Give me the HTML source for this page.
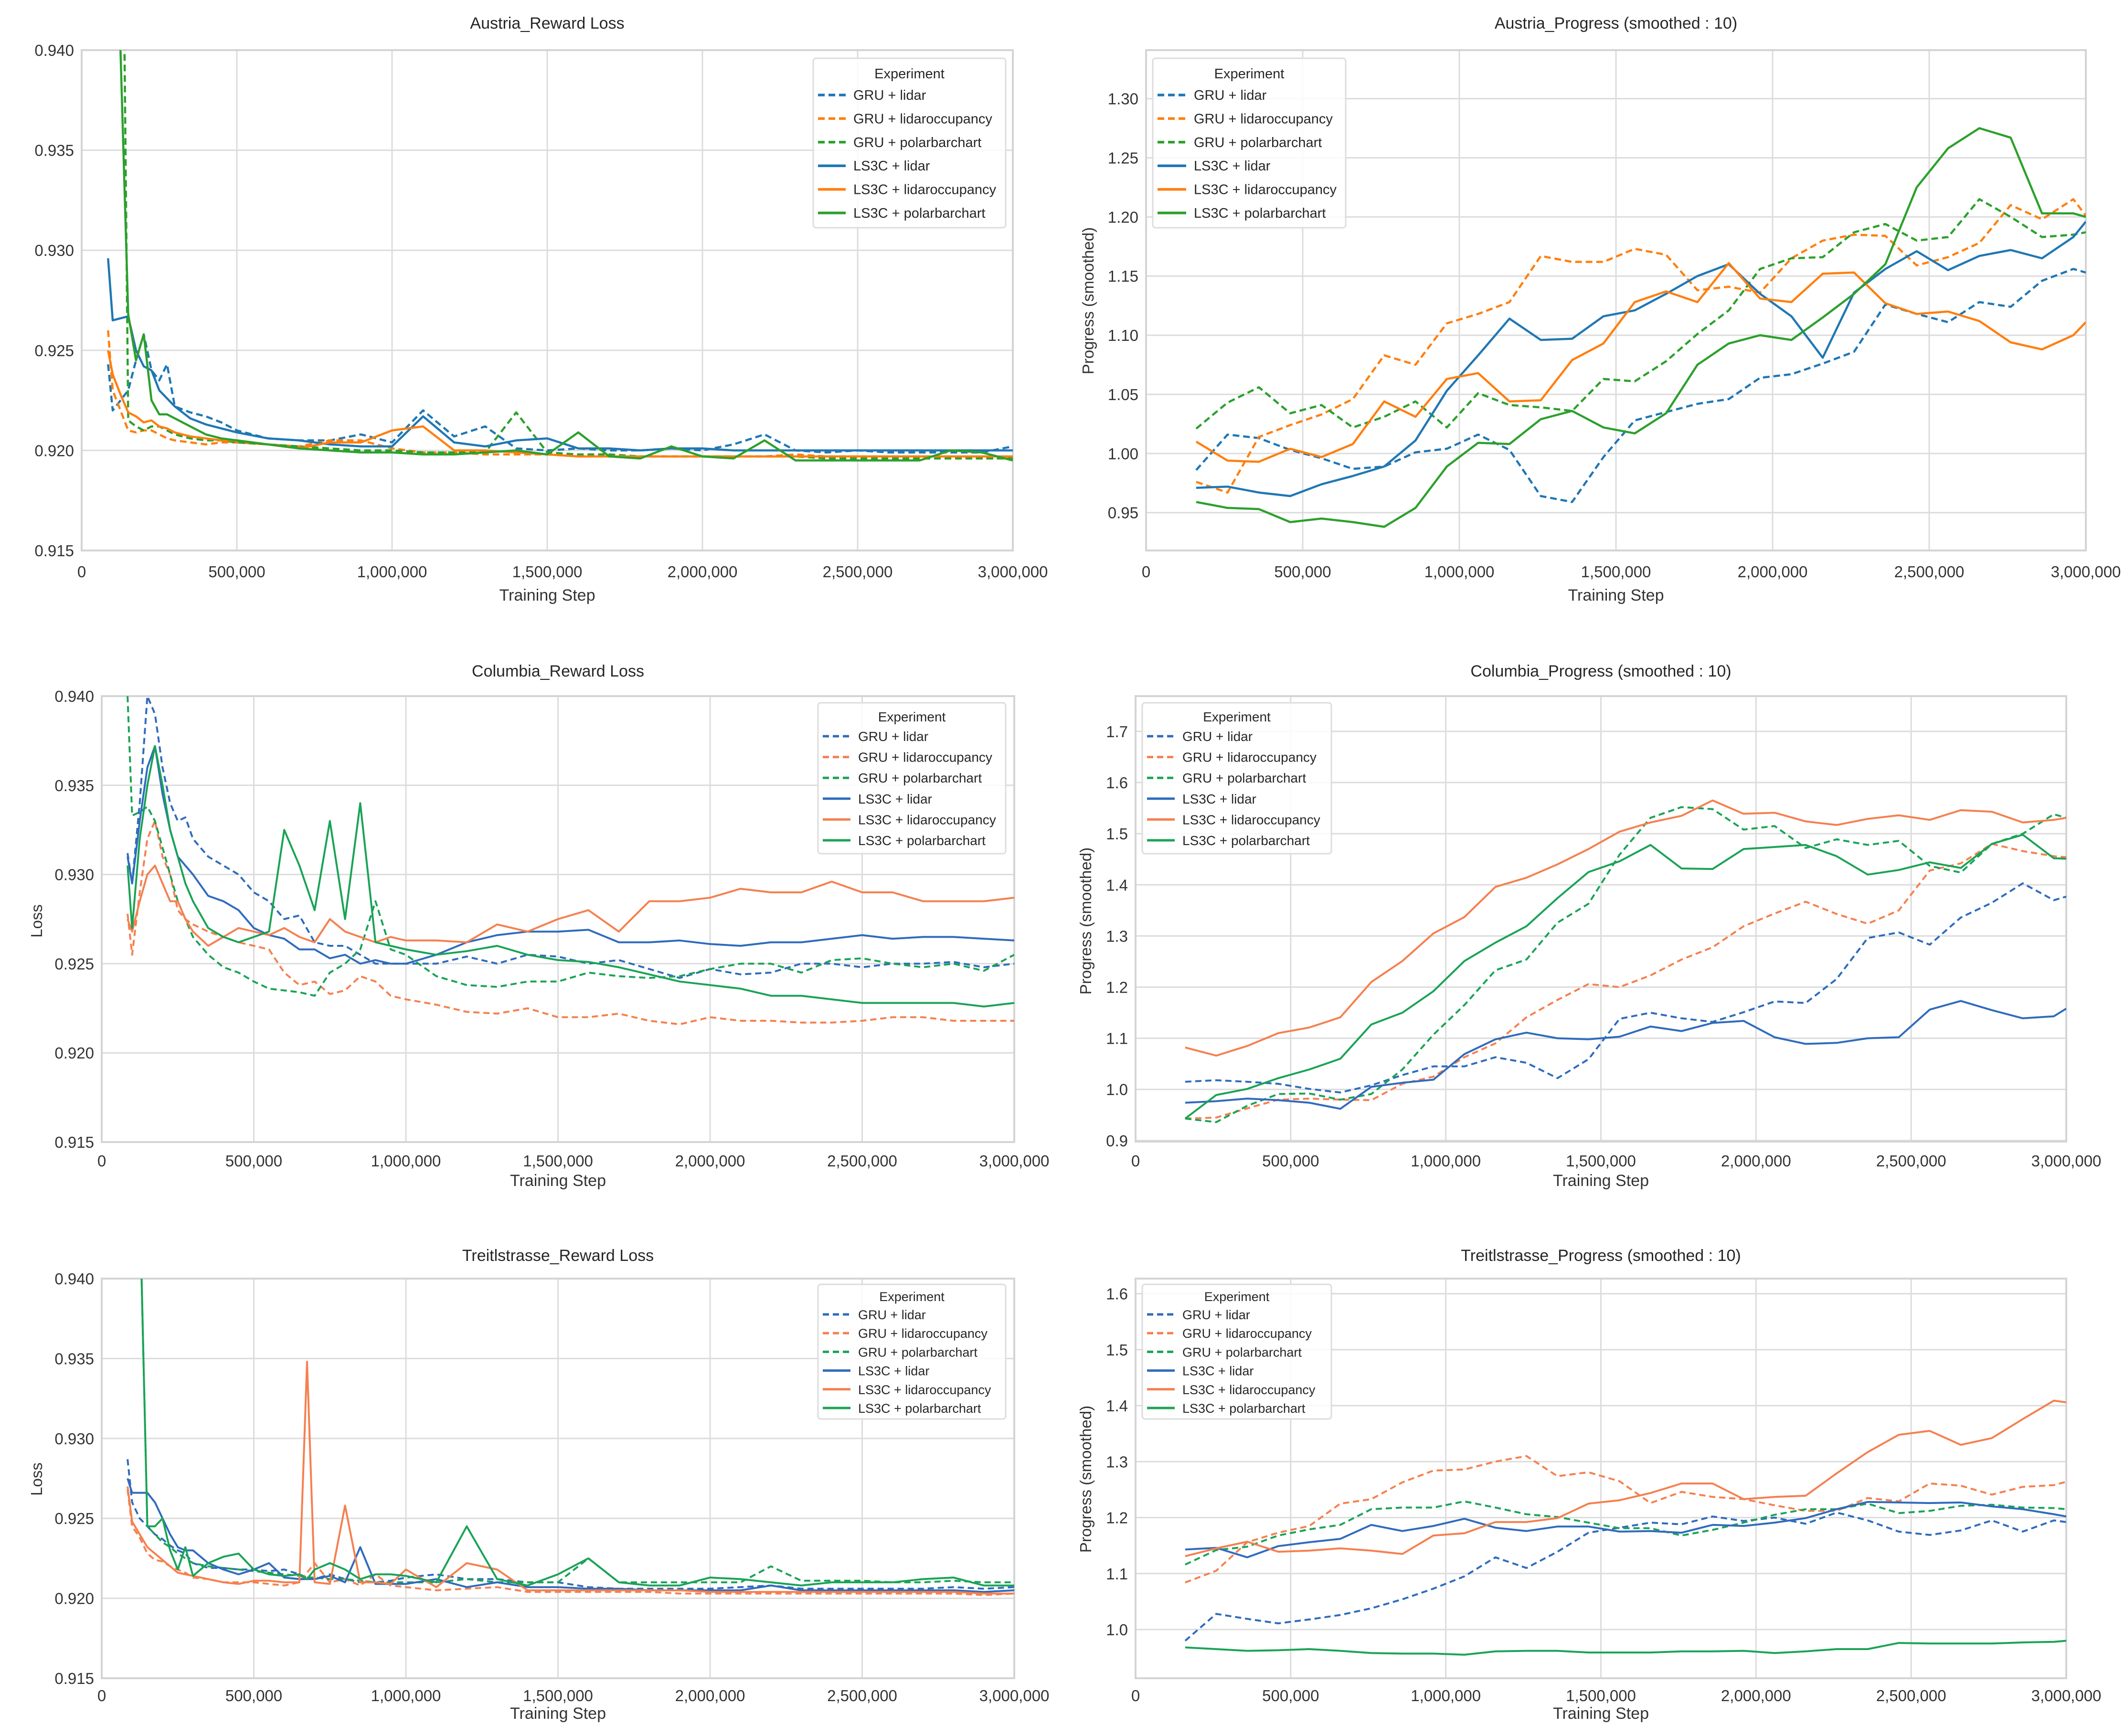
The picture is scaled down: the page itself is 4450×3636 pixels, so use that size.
<!DOCTYPE html>
<html><head><meta charset="utf-8"><style>
html,body{margin:0;padding:0;background:#fff;}
svg{display:block;font-family:"Liberation Sans Narrow","Liberation Sans",sans-serif;}
</style></head><body>
<svg id="root" width="4450" height="3636" viewBox="0 0 4450 3636" xmlns="http://www.w3.org/2000/svg">
<rect width="4450" height="3636" fill="#fff"/>
</svg>
<script>
// ---------- data ----------
const xsProg = [160,260,360,460,560,660,760,860,960,1060,1160,1260,1360,1460,1560,1660,1760,1860,1960,2060,2160,2260,2360,2460,2560,2660,2760,2860,2960,3000];
const xsLoss1 = [85,100,125,150,175,200,225,250,275,300,350,400,450,500,600,700,800,900,1000,1100,1200,1300,1400,1500,1600,1700,1800,1900,2000,2100,2200,2300,2400,2500,2600,2700,2800,2900,3000];
const xsLoss3 = [85,100,125,150,175,200,225,250,275,300,350,400,450,500,550,600,650,700,750,800,850,900,950,1000,1100,1200,1300,1400,1500,1600,1700,1800,1900,2000,2100,2200,2300,2400,2500,2600,2700,2800,2900,3000];
const xsLoss5 = [85,100,125,150,175,200,225,250,275,300,350,400,450,500,550,600,650,675,700,750,800,850,900,950,1000,1100,1200,1300,1400,1500,1600,1700,1800,1900,2000,2100,2200,2300,2400,2500,2600,2700,2800,2900,3000];

const seriesNames = ["GRU + lidar","GRU + lidaroccupancy","GRU + polarbarchart","LS3C + lidar","LS3C + lidaroccupancy","LS3C + polarbarchart"];
const xTickValues = [0,500000,1000000,1500000,2000000,2500000,3000000];
const xTickLabels = ["0","500,000","1,000,000","1,500,000","2,000,000","2,500,000","3,000,000"];

const a_loss_gru_lidar = [0.9243,0.9220,0.9225,0.9230,0.9245,0.9258,0.9240,0.9235,0.9243,0.9222,0.9219,0.9217,0.9214,0.9210,0.9206,0.9205,0.9205,0.9208,0.9204,0.9220,0.9207,0.9212,0.9201,0.9200,0.9201,0.9200,0.9200,0.9201,0.9200,0.9203,0.9208,0.9200,0.9199,0.9200,0.9199,0.9199,0.9199,0.9199,0.9202];
const a_loss_gru_occ = [0.9260,0.9230,0.9220,0.9210,0.9209,0.9210,0.9210,0.9208,0.9206,0.9205,0.9204,0.9203,0.9204,0.9204,0.9203,0.9202,0.9205,0.9205,0.9201,0.9199,0.9199,0.9198,0.9198,0.9198,0.9197,0.9197,0.9197,0.9197,0.9197,0.9197,0.9197,0.9198,0.9197,0.9197,0.9197,0.9197,0.9197,0.9196,0.9196];
const a_loss_gru_polar = [0.970,0.970,0.960,0.9215,0.9212,0.9210,0.9212,0.9212,0.9210,0.9208,0.9206,0.9205,0.9205,0.9204,0.9203,0.9202,0.9201,0.9200,0.9200,0.9199,0.9199,0.9199,0.9219,0.9199,0.9198,0.9198,0.9197,0.9197,0.9197,0.9197,0.9197,0.9197,0.9196,0.9196,0.9196,0.9196,0.9196,0.9196,0.9196];
const a_loss_ls_lidar = [0.9296,0.9265,0.9266,0.9267,0.9250,0.9242,0.9240,0.9230,0.9226,0.9222,0.9216,0.9213,0.9211,0.9209,0.9206,0.9205,0.9203,0.9202,0.9202,0.9217,0.9204,0.9202,0.9205,0.9206,0.9201,0.9201,0.9200,0.9201,0.9201,0.9200,0.9200,0.9200,0.9200,0.9200,0.9200,0.9200,0.9200,0.9200,0.9200];
const a_loss_ls_occ = [0.9250,0.9238,0.9228,0.9219,0.9217,0.9214,0.9215,0.9212,0.9211,0.9209,0.9207,0.9206,0.9205,0.9205,0.9203,0.9201,0.9204,0.9204,0.9210,0.9212,0.9200,0.9200,0.9199,0.9198,0.9197,0.9197,0.9197,0.9197,0.9197,0.9197,0.9197,0.9197,0.9197,0.9197,0.9197,0.9197,0.9197,0.9197,0.9197];
const a_loss_ls_polar = [0.975,0.965,0.940,0.9268,0.9245,0.9258,0.9225,0.9218,0.9218,0.9216,0.9212,0.9208,0.9206,0.9205,0.9203,0.9201,0.9200,0.9199,0.9199,0.9198,0.9198,0.9199,0.9200,0.9198,0.9209,0.9197,0.9196,0.9202,0.9197,0.9196,0.9205,0.9195,0.9195,0.9195,0.9195,0.9195,0.9200,0.9199,0.9195];

const a_prog_gru_lidar = [0.986,1.016,1.013,1.003,0.996,0.987,0.989,1.001,1.004,1.016,1.003,0.964,0.959,0.997,1.028,1.035,1.042,1.046,1.064,1.067,1.076,1.086,1.126,1.118,1.111,1.128,1.124,1.146,1.156,1.153];
const a_prog_gru_occ = [0.976,0.967,1.014,1.024,1.033,1.046,1.083,1.075,1.110,1.118,1.128,1.167,1.162,1.162,1.173,1.168,1.138,1.141,1.136,1.165,1.180,1.185,1.184,1.159,1.166,1.178,1.210,1.198,1.215,1.201];
const a_prog_gru_polar = [1.021,1.043,1.056,1.034,1.041,1.022,1.031,1.044,1.022,1.051,1.041,1.039,1.036,1.063,1.061,1.078,1.101,1.121,1.156,1.165,1.166,1.187,1.194,1.180,1.183,1.215,1.200,1.183,1.185,1.187];
const a_prog_ls_lidar = [0.971,0.972,0.967,0.964,0.974,0.981,0.989,1.011,1.053,1.083,1.114,1.096,1.097,1.116,1.121,1.135,1.150,1.160,1.135,1.116,1.081,1.136,1.156,1.171,1.155,1.167,1.172,1.165,1.183,1.196];
const a_prog_ls_occ = [1.010,0.994,0.993,1.004,0.997,1.008,1.044,1.031,1.063,1.068,1.044,1.045,1.079,1.093,1.128,1.137,1.128,1.161,1.131,1.128,1.152,1.153,1.127,1.118,1.120,1.112,1.094,1.088,1.100,1.111];
const a_prog_ls_polar = [0.959,0.954,0.953,0.942,0.945,0.942,0.938,0.954,0.989,1.009,1.008,1.029,1.036,1.022,1.017,1.034,1.075,1.093,1.100,1.096,1.115,1.135,1.160,1.225,1.258,1.275,1.267,1.203,1.203,1.200];

const c_loss_gru_lidar = [0.9312,0.9295,0.9340,0.9400,0.9390,0.9360,0.9340,0.9330,0.9332,0.9320,0.9310,0.9305,0.9300,0.9290,0.9285,0.9275,0.9277,0.9262,0.9260,0.9260,0.9255,0.9250,0.9250,0.9250,0.9250,0.9254,0.9250,0.9255,0.9254,0.9250,0.9252,0.9247,0.9242,0.9247,0.9244,0.9245,0.9250,0.9250,0.9248,0.9250,0.9250,0.9251,0.9248,0.9250];
const c_loss_gru_occ = [0.9278,0.9255,0.9290,0.9320,0.9330,0.9310,0.9300,0.9280,0.9275,0.9272,0.9268,0.9265,0.9262,0.9260,0.9258,0.9245,0.9238,0.9240,0.9233,0.9235,0.9243,0.9240,0.9232,0.9230,0.9227,0.9223,0.9222,0.9225,0.9220,0.9220,0.9222,0.9218,0.9216,0.9220,0.9218,0.9218,0.9217,0.9217,0.9218,0.9220,0.9220,0.9218,0.9218,0.9218];
const c_loss_gru_polar = [0.9400,0.9333,0.9335,0.9338,0.9330,0.9315,0.9300,0.9285,0.9275,0.9265,0.9255,0.9248,0.9245,0.9240,0.9236,0.9235,0.9234,0.9232,0.9245,0.9250,0.9258,0.9285,0.9258,0.9255,0.9243,0.9238,0.9237,0.9240,0.9240,0.9245,0.9243,0.9242,0.9243,0.9247,0.9250,0.9250,0.9245,0.9252,0.9253,0.9250,0.9248,0.9250,0.9246,0.9255];
const c_loss_ls_lidar = [0.9310,0.9295,0.9330,0.9360,0.9372,0.9345,0.9325,0.9310,0.9305,0.9300,0.9288,0.9285,0.9280,0.9270,0.9266,0.9264,0.9258,0.9258,0.9253,0.9255,0.9250,0.9252,0.9250,0.9250,0.9255,0.9262,0.9266,0.9268,0.9268,0.9269,0.9262,0.9262,0.9263,0.9261,0.9260,0.9262,0.9262,0.9264,0.9266,0.9264,0.9265,0.9265,0.9264,0.9263];
const c_loss_ls_occ = [0.9275,0.9268,0.9285,0.9300,0.9305,0.9295,0.9285,0.9285,0.9275,0.9268,0.9260,0.9265,0.9270,0.9268,0.9266,0.9270,0.9265,0.9262,0.9275,0.9268,0.9265,0.9262,0.9265,0.9263,0.9263,0.9262,0.9272,0.9268,0.9275,0.9280,0.9268,0.9285,0.9285,0.9287,0.9292,0.9290,0.9290,0.9296,0.9290,0.9290,0.9285,0.9285,0.9285,0.9287];
const c_loss_ls_polar = [0.9305,0.9270,0.9320,0.9350,0.9372,0.9350,0.9325,0.9310,0.9295,0.9285,0.9270,0.9265,0.9262,0.9265,0.9268,0.9325,0.9305,0.9280,0.9330,0.9275,0.9340,0.9262,0.9260,0.9258,0.9255,0.9257,0.9260,0.9255,0.9252,0.9251,0.9248,0.9244,0.9240,0.9238,0.9236,0.9232,0.9232,0.9230,0.9228,0.9228,0.9228,0.9228,0.9226,0.9228];

const c_prog_gru_lidar = [1.015,1.018,1.015,1.011,1.001,0.994,1.008,1.028,1.045,1.045,1.063,1.052,1.022,1.059,1.138,1.150,1.139,1.132,1.151,1.172,1.169,1.216,1.296,1.307,1.283,1.336,1.365,1.403,1.370,1.377];
const c_prog_gru_occ = [0.943,0.945,0.963,0.980,0.982,0.980,0.979,1.011,1.025,1.063,1.090,1.141,1.175,1.206,1.200,1.223,1.254,1.278,1.319,1.344,1.367,1.343,1.324,1.350,1.428,1.442,1.480,1.466,1.456,1.454];
const c_prog_gru_polar = [0.943,0.936,0.968,0.991,0.992,0.980,0.991,1.039,1.107,1.165,1.233,1.254,1.326,1.363,1.459,1.531,1.552,1.548,1.508,1.515,1.472,1.489,1.478,1.486,1.437,1.424,1.480,1.500,1.538,1.531];
const c_prog_ls_lidar = [0.974,0.977,0.982,0.979,0.974,0.962,1.005,1.013,1.019,1.069,1.098,1.111,1.100,1.098,1.103,1.123,1.114,1.130,1.134,1.102,1.089,1.091,1.100,1.102,1.156,1.173,1.155,1.139,1.143,1.158];
const c_prog_ls_occ = [1.082,1.066,1.085,1.110,1.121,1.141,1.210,1.251,1.305,1.337,1.396,1.414,1.440,1.470,1.504,1.522,1.535,1.565,1.539,1.541,1.524,1.517,1.529,1.536,1.527,1.546,1.543,1.522,1.527,1.531];
const c_prog_ls_polar = [0.943,0.989,1.001,1.022,1.039,1.060,1.127,1.150,1.192,1.251,1.287,1.319,1.374,1.425,1.446,1.478,1.432,1.431,1.470,1.474,1.478,1.456,1.420,1.429,1.444,1.433,1.480,1.498,1.452,1.451];

const t_loss_gru_lidar = [0.9287,0.9260,0.9250,0.9245,0.9240,0.9237,0.9233,0.9230,0.9228,0.9222,0.9219,0.9219,0.9218,0.9218,0.9217,0.9218,0.9215,0.9213,0.9212,0.9215,0.9212,0.9210,0.9210,0.9211,0.9213,0.9215,0.9212,0.9212,0.9210,0.9210,0.9207,0.9206,0.9206,0.9206,0.9206,0.9207,0.9208,0.9206,0.9206,0.9206,0.9206,0.9206,0.9207,0.9206,0.9207];
const t_loss_gru_occ = [0.9268,0.9245,0.9238,0.9228,0.9224,0.9223,0.9220,0.9218,0.9216,0.9213,0.9212,0.9210,0.9210,0.9210,0.9209,0.9208,0.9210,0.9216,0.9222,0.9210,0.9212,0.9208,0.9215,0.9208,0.9207,0.9205,0.9206,0.9207,0.9204,0.9204,0.9204,0.9204,0.9204,0.9203,0.9203,0.9203,0.9203,0.9203,0.9203,0.9203,0.9203,0.9203,0.9203,0.9202,0.9203];
const t_loss_gru_polar = [0.960,0.950,0.945,0.9245,0.9240,0.9235,0.9232,0.9228,0.9225,0.9222,0.9220,0.9219,0.9218,0.9217,0.9216,0.9215,0.9214,0.9213,0.9213,0.9212,0.9212,0.9211,0.9210,0.9210,0.9210,0.9210,0.9212,0.9210,0.9210,0.9210,0.9225,0.9210,0.9210,0.9210,0.9210,0.9210,0.9220,0.9211,0.9211,0.9211,0.9210,0.9210,0.9211,0.9210,0.9210];
const t_loss_ls_lidar = [0.9275,0.9266,0.9266,0.9266,0.9260,0.9250,0.9240,0.9232,0.9230,0.9230,0.9222,0.9218,0.9215,0.9218,0.9222,0.9213,0.9212,0.9212,0.9212,0.9214,0.9210,0.9232,0.9209,0.9209,0.9209,0.9212,0.9207,0.9210,0.9207,0.9207,0.9206,0.9206,0.9205,0.9205,0.9205,0.9205,0.9208,0.9205,0.9205,0.9205,0.9205,0.9205,0.9205,0.9204,0.9205];
const t_loss_ls_occ = [0.9270,0.9248,0.9240,0.9232,0.9228,0.9224,0.9220,0.9216,0.9215,0.9214,0.9212,0.9210,0.9209,0.9211,0.9211,0.9210,0.9210,0.9348,0.9210,0.9209,0.9258,0.9210,0.9210,0.9209,0.9218,0.9207,0.9222,0.9218,0.9205,0.9205,0.9205,0.9205,0.9205,0.9205,0.9204,0.9204,0.9204,0.9204,0.9204,0.9204,0.9204,0.9204,0.9204,0.9203,0.9203];
const t_loss_ls_polar = [0.965,0.955,0.945,0.9245,0.9245,0.9250,0.9230,0.9218,0.9232,0.9214,0.9222,0.9226,0.9228,0.9218,0.9215,0.9214,0.9215,0.9212,0.9218,0.9222,0.9218,0.9212,0.9215,0.9215,0.9214,0.9210,0.9245,0.9212,0.9208,0.9215,0.9225,0.9210,0.9208,0.9208,0.9213,0.9212,0.9210,0.9208,0.9210,0.9210,0.9210,0.9212,0.9213,0.9208,0.9208];

const t_prog_gru_lidar = [0.980,1.028,1.019,1.011,1.018,1.026,1.038,1.054,1.073,1.095,1.129,1.110,1.139,1.173,1.182,1.191,1.188,1.202,1.194,1.200,1.189,1.209,1.195,1.175,1.169,1.177,1.195,1.175,1.195,1.192];
const t_prog_gru_occ = [1.084,1.105,1.156,1.173,1.185,1.225,1.233,1.263,1.284,1.286,1.300,1.310,1.274,1.281,1.265,1.226,1.246,1.237,1.233,1.222,1.212,1.212,1.235,1.229,1.261,1.257,1.241,1.255,1.258,1.264];
const t_prog_gru_polar = [1.116,1.142,1.148,1.168,1.179,1.187,1.215,1.218,1.218,1.229,1.218,1.206,1.201,1.191,1.181,1.181,1.168,1.178,1.191,1.205,1.215,1.215,1.225,1.208,1.212,1.221,1.223,1.218,1.217,1.215];
const t_prog_ls_lidar = [1.143,1.146,1.129,1.149,1.156,1.162,1.187,1.176,1.185,1.198,1.182,1.176,1.184,1.184,1.175,1.176,1.173,1.187,1.185,1.191,1.199,1.215,1.228,1.227,1.226,1.227,1.220,1.215,1.206,1.202];
const t_prog_ls_occ = [1.131,1.145,1.157,1.139,1.141,1.145,1.141,1.135,1.168,1.172,1.192,1.192,1.199,1.225,1.231,1.244,1.261,1.261,1.233,1.237,1.239,1.279,1.317,1.348,1.355,1.330,1.342,1.376,1.409,1.406];
const t_prog_ls_polar = [0.968,0.965,0.962,0.963,0.965,0.962,0.958,0.957,0.957,0.955,0.961,0.962,0.962,0.959,0.959,0.959,0.961,0.961,0.962,0.958,0.961,0.965,0.965,0.976,0.975,0.975,0.975,0.977,0.978,0.980];

const yTicksLoss = [0.915,0.920,0.925,0.930,0.935,0.940];
const yTicksLossLabels = ["0.915","0.920","0.925","0.930","0.935","0.940"];
const yTicksA = [0.95,1.00,1.05,1.10,1.15,1.20,1.25,1.30];
const yTicksALabels = ["0.95","1.00","1.05","1.10","1.15","1.20","1.25","1.30"];
const yTicksC = [0.9,1.0,1.1,1.2,1.3,1.4,1.5,1.6,1.7];
const yTicksCLabels = ["0.9","1.0","1.1","1.2","1.3","1.4","1.5","1.6","1.7"];
const yTicksT = [1.0,1.1,1.2,1.3,1.4,1.5,1.6];
const yTicksTLabels = ["1.0","1.1","1.2","1.3","1.4","1.5","1.6"];

const NS = "http://www.w3.org/2000/svg";
const root = document.getElementById('root');
function mk(tag, parent){ const e = document.createElementNS(NS, tag); parent.appendChild(e); return e; }
let clipId = 0;

function chart(cfg){
  const g = mk('g', root);
  
  
  const L=cfg.l, R=cfg.r, T=cfg.t, B=cfg.b;
  const xS = v => L + (v - 0) / 3000000 * (R - L);
  const yS = v => B - (v - cfg.ymin) / (cfg.ymax - cfg.ymin) * (B - T);
  const title = mk('text', g);
  
  
  title.setAttribute('x', (L+R)/2); title.setAttribute('y', cfg.titleY);
  title.setAttribute('text-anchor','middle'); title.setAttribute('font-size', 34); title.setAttribute('fill','#262626');
  title.textContent = cfg.title;
  const grid = mk('g', g);
  
  
  xTickValues.forEach((v,i)=>{
    const ln = mk('line', grid);
    
    
    ln.setAttribute('x1', xS(v)); ln.setAttribute('x2', xS(v)); ln.setAttribute('y1', T); ln.setAttribute('y2', B);
    ln.setAttribute('stroke','#dcdcdc'); ln.setAttribute('stroke-width',3);
    const tx = mk('text', g);
    
    
    tx.setAttribute('x', xS(v)); tx.setAttribute('y', cfg.xtickY);
    tx.setAttribute('text-anchor','middle'); tx.setAttribute('font-size', 33); tx.setAttribute('fill','#333');
    tx.textContent = xTickLabels[i];
  });
  cfg.yticks.forEach((v,i)=>{
    const ln = mk('line', grid);
    
    
    ln.setAttribute('x1', L); ln.setAttribute('x2', R); ln.setAttribute('y1', yS(v)); ln.setAttribute('y2', yS(v));
    ln.setAttribute('stroke','#dcdcdc'); ln.setAttribute('stroke-width',3);
    const tx = mk('text', g);
    
    
    tx.setAttribute('x', L - 16); tx.setAttribute('y', yS(v) + 12);
    tx.setAttribute('text-anchor','end'); tx.setAttribute('font-size', 33); tx.setAttribute('fill','#333');
    tx.textContent = cfg.ylabels[i];
  });
  const frame = mk('rect', g);
  
  
  frame.setAttribute('x',L); frame.setAttribute('y',T); frame.setAttribute('width',R-L); frame.setAttribute('height',B-T);
  frame.setAttribute('fill','none'); frame.setAttribute('stroke','#d4d4d4'); frame.setAttribute('stroke-width',4);
  const xl = mk('text', g);
  
  
  xl.setAttribute('x',(L+R)/2); xl.setAttribute('y', cfg.xlabelY);
  xl.setAttribute('text-anchor','middle'); xl.setAttribute('font-size',34); xl.setAttribute('fill','#333');
  xl.textContent = 'Training Step';
  if (cfg.ylabel){
    const yl = mk('text', g);
    
    
    yl.setAttribute('x', cfg.ylabelX); yl.setAttribute('y', cfg.ylabelY);
    yl.setAttribute('text-anchor','middle'); yl.setAttribute('font-size',33); yl.setAttribute('fill','#333');
    yl.setAttribute('font-family','"Liberation Sans",sans-serif');
    yl.setAttribute('transform','rotate(-90 '+cfg.ylabelX+' '+cfg.ylabelY+')');
    yl.textContent = cfg.ylabel;
  }
  const cid = 'clip' + (clipId++);
  const cp = mk('clipPath', g); cp.setAttribute('id', cid);
  const cr = mk('rect', cp); cr.setAttribute('x',L); cr.setAttribute('y',T); cr.setAttribute('width',R-L); cr.setAttribute('height',B-T);
  const lines = mk('g', g);
  
  
  lines.setAttribute('clip-path','url(#'+cid+')');
  cfg.series.forEach((s,si)=>{
    const xs = cfg.xs[si];
    const n = Math.min(xs.length, s.length);
    let d = '';
    for (let i=0;i<n;i++){ d += (i?'L':'M') + xS(xs[i]*1000).toFixed(1) + ',' + yS(s[i]).toFixed(1); }
    const p = mk('path', lines);
    
    
    p.setAttribute('d', d); p.setAttribute('fill','none');
    p.setAttribute('stroke', cfg.colors[si%3]); p.setAttribute('stroke-width', cfg.lw);
    p.setAttribute('stroke-linejoin','round');
    if (si < 3) p.setAttribute('stroke-dasharray', cfg.dash);
  });
  const lg = mk('g', g);
  
  
  const lb = mk('rect', lg);
  
  
  lb.setAttribute('x',cfg.leg.x); lb.setAttribute('y',cfg.leg.y); lb.setAttribute('width',cfg.leg.w); lb.setAttribute('height',cfg.leg.h);
  lb.setAttribute('rx',6); lb.setAttribute('fill','#fff'); lb.setAttribute('fill-opacity','0.85'); lb.setAttribute('stroke','#dddddd'); lb.setAttribute('stroke-width',3);
  const lt = mk('text', lg);
  
  
  lt.setAttribute('x', cfg.leg.x + cfg.leg.w/2); lt.setAttribute('y', cfg.leg.titleY + 12);
  lt.setAttribute('text-anchor','middle'); lt.setAttribute('font-size', cfg.leg.fs); lt.setAttribute('fill','#262626');
  lt.textContent = 'Experiment';
  seriesNames.forEach((nm,i)=>{
    const yy = cfg.leg.y0 + i*cfg.leg.dy;
    const e = mk('g', lg);
    
    
    const ln = mk('line', e);
    ln.setAttribute('x1', cfg.leg.lx); ln.setAttribute('x2', cfg.leg.lx + cfg.leg.ll); ln.setAttribute('y1', yy); ln.setAttribute('y2', yy);
    ln.setAttribute('stroke', cfg.colors[i%3]); ln.setAttribute('stroke-width', cfg.lw + 1);
    if (i < 3) ln.setAttribute('stroke-dasharray', cfg.dash);
    const tx = mk('text', e);
    tx.setAttribute('x', cfg.leg.lx + cfg.leg.ll + 16); tx.setAttribute('y', yy + 10);
    tx.setAttribute('font-size', cfg.leg.fs); tx.setAttribute('fill','#262626');
    tx.textContent = nm;
  });
}

const tab = ['#1f77b4','#ff7f0e','#2ca02c'];
const sns = ['#2f6bbd','#f5804f','#1aa356'];
const xs6p = [xsProg,xsProg,xsProg,xsProg,xsProg,xsProg];

chart({name:'austria-reward-loss-chart', title:'Austria_Reward Loss', l:171,r:2121,t:105,b:1153, ymin:0.915,ymax:0.940,
  yticks:yTicksLoss, ylabels:yTicksLossLabels, titleY:60, xtickY:1209, xlabelY:1258, ylabel:null,
  series:[a_loss_gru_lidar,a_loss_gru_occ,a_loss_gru_polar,a_loss_ls_lidar,a_loss_ls_occ,a_loss_ls_polar],
  xs:[xsLoss1,xsLoss1,xsLoss1,xsLoss1,xsLoss1,xsLoss1], colors:tab, lw:4.5, dash:'14 8',
  leg:{x:1703,y:122,w:403,h:355,titleY:152,y0:199,dy:49.4,lx:1713,ll:58,fs:29}});
chart({name:'austria-progress-chart', title:'Austria_Progress (smoothed : 10)', l:2400,r:4368,t:105,b:1153, ymin:0.918,ymax:1.341,
  yticks:yTicksA, ylabels:yTicksALabels, titleY:60, xtickY:1209, xlabelY:1258, ylabel:'Progress (smoothed)', ylabelX:2290, ylabelY:630,
  series:[a_prog_gru_lidar,a_prog_gru_occ,a_prog_gru_polar,a_prog_ls_lidar,a_prog_ls_occ,a_prog_ls_polar],
  xs:xs6p, colors:tab, lw:4.5, dash:'14 8',
  leg:{x:2414,y:122,w:404,h:355,titleY:152,y0:199,dy:49.4,lx:2424,ll:60,fs:29}});
chart({name:'columbia-reward-loss-chart', title:'Columbia_Reward Loss', l:213,r:2124,t:1458,b:2392, ymin:0.915,ymax:0.940,
  yticks:yTicksLoss, ylabels:yTicksLossLabels, titleY:1417, xtickY:2443, xlabelY:2484, ylabel:'Loss', ylabelX:88, ylabelY:1929,
  series:[c_loss_gru_lidar,c_loss_gru_occ,c_loss_gru_polar,c_loss_ls_lidar,c_loss_ls_occ,c_loss_ls_polar],
  xs:[xsLoss3,xsLoss3,xsLoss3,xsLoss3,xsLoss3,xsLoss3], colors:sns, lw:4, dash:'13 8',
  leg:{x:1713,y:1472,w:393,h:316,titleY:1499,y0:1542,dy:43.6,lx:1723,ll:58,fs:28}});
chart({name:'columbia-progress-chart', title:'Columbia_Progress (smoothed : 10)', l:2378,r:4327,t:1458,b:2391, ymin:0.898,ymax:1.769,
  yticks:yTicksC, ylabels:yTicksCLabels, titleY:1417, xtickY:2443, xlabelY:2484, ylabel:'Progress (smoothed)', ylabelX:2285, ylabelY:1929,
  series:[c_prog_gru_lidar,c_prog_gru_occ,c_prog_gru_polar,c_prog_ls_lidar,c_prog_ls_occ,c_prog_ls_polar],
  xs:xs6p, colors:sns, lw:4, dash:'13 8',
  leg:{x:2392,y:1472,w:396,h:316,titleY:1499,y0:1542,dy:43.6,lx:2402,ll:58,fs:28}});
chart({name:'treitlstrasse-reward-loss-chart', title:'Treitlstrasse_Reward Loss', l:213,r:2124,t:2678,b:3515, ymin:0.915,ymax:0.940,
  yticks:yTicksLoss, ylabels:yTicksLossLabels, titleY:2641, xtickY:3563, xlabelY:3600, ylabel:'Loss', ylabelX:88, ylabelY:3098,
  series:[t_loss_gru_lidar,t_loss_gru_occ,t_loss_gru_polar,t_loss_ls_lidar,t_loss_ls_occ,t_loss_ls_polar],
  xs:[xsLoss5,xsLoss5,xsLoss5,xsLoss5,xsLoss5,xsLoss5], colors:sns, lw:4, dash:'13 8',
  leg:{x:1713,y:2690,w:393,h:282,titleY:2713,y0:2753,dy:39.2,lx:1723,ll:58,fs:27}});
chart({name:'treitlstrasse-progress-chart', title:'Treitlstrasse_Progress (smoothed : 10)', l:2378,r:4327,t:2678,b:3515, ymin:0.913,ymax:1.627,
  yticks:yTicksT, ylabels:yTicksTLabels, titleY:2641, xtickY:3563, xlabelY:3600, ylabel:'Progress (smoothed)', ylabelX:2285, ylabelY:3098,
  series:[t_prog_gru_lidar,t_prog_gru_occ,t_prog_gru_polar,t_prog_ls_lidar,t_prog_ls_occ,t_prog_ls_polar],
  xs:xs6p, colors:sns, lw:4, dash:'13 8',
  leg:{x:2392,y:2690,w:396,h:282,titleY:2713,y0:2753,dy:39.2,lx:2402,ll:58,fs:27}});
</script>
</body></html>
